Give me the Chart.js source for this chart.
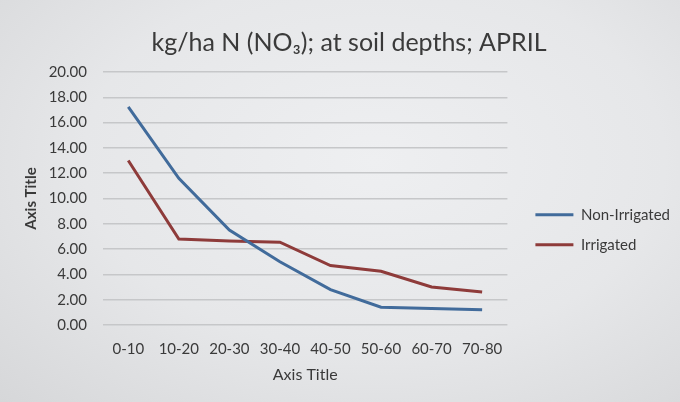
<!DOCTYPE html>
<html>
<head>
<meta charset="utf-8">
<script src="https://cdn.jsdelivr.net/npm/chart.js@4.4.1/dist/chart.umd.min.js"></script>
<style>
  html, body { margin: 0; padding: 0; }
  body {
    width: 680px; height: 402px; overflow: hidden;
    background: radial-gradient(ellipse at 55% 40%, #eeeff1 0%, #e6e7e9 55%, #d6d7d9 100%);
  }
  #wrap { width: 680px; height: 402px; }
</style>
</head>
<body>
<div id="wrap"><canvas id="soil-chart" width="680" height="402"></canvas></div>
<script>
'use strict';

// DATA
const depths = ['0-10', '10-20', '20-30', '30-40', '40-50', '50-60', '60-70', '70-80'];
const nonIrrigated = [17.25, 11.6, 7.5, 5.0, 2.8, 1.4, 1.3, 1.2];
const irrigated = [13.0, 6.8, 6.65, 6.55, 4.7, 4.25, 3.0, 2.6];
const yTicks = [0, 2, 4, 6, 8, 10, 12, 14, 16, 18, 20];

const TEXT = '#3a3a3a';
const FONT = 'Lato, "Open Sans", sans-serif';

// CHART CONFIG
function createLineChart() {
  const data = {
    labels: depths,
    datasets: [
      {
        label: 'Non-Irrigated',
        data: nonIrrigated,
        borderColor: '#416b9b', //BLUE
        backgroundColor: '#416b9b',
        borderWidth: 3,
        pointRadius: 0,
        tension: 0,
      },
      {
        label: 'Irrigated',
        data: irrigated,
        borderColor: '#8e3b3a', //RED
        backgroundColor: '#8e3b3a',
        borderWidth: 3,
        pointRadius: 0,
        tension: 0,
      },
    ],
  };

  const config = {
    type: 'line',
    data: data,
    options: {
      responsive: false,
      animation: false,
      layout: { padding: { left: 18, right: 0, bottom: 14, top: 0 } },
      plugins: {
        title: {
          display: true,
          text: 'kg/ha N (NO\u2083); at soil depths; APRIL',
          color: TEXT,
          font: { family: FONT, size: 25, weight: 'normal' },
          padding: { top: 28, bottom: 14 },
        },
        legend: {
          position: 'right',
          // empty legend title only pushes the two items down
          title: { display: true, text: ' ', font: { family: FONT, size: 13 }, padding: { top: 0, bottom: 56 } },
          labels: {
            color: TEXT,
            font: { family: FONT, size: 15 },
            usePointStyle: true,
            pointStyle: 'line',
            pointStyleWidth: 38,
            padding: 15,
          },
        },
        tooltip: { enabled: false },
      },
      scales: {
        x: {
          offset: true,
          grid: { display: false },
          border: { display: false },
          ticks: { color: TEXT, font: { family: FONT, size: 15 }, maxRotation: 0, padding: 7 },
          title: { display: true, text: 'Axis Title', color: TEXT, font: { family: FONT, size: 16 }, padding: { top: 4 } },
          afterFit: (scale) => { scale.height = 63; },
        },
        y: {
          min: 0,
          max: 20,
          afterBuildTicks: (scale) => { scale.ticks = yTicks.map((v) => ({ value: v })); },
          grid: { color: '#c6c7c9', lineWidth: 1.5, drawTicks: false },
          border: { display: false },
          ticks: {
            color: TEXT,
            font: { family: FONT, size: 15 },
            padding: 16,
            callback: (v) => Number(v).toFixed(2),
          },
          title: { display: true, text: 'Axis Title', color: TEXT, font: { family: FONT, size: 15, weight: 'bold' }, padding: 4 },
          afterFit: (scale) => { scale.width = 85; },
        },
        // HIDDEN RIGHT AXIS, ONLY A GAP BETWEEN PLOT AND LEGEND
        gap: {
          type: 'linear',
          position: 'right',
          display: false,
          afterFit: (scale) => { scale.width = 13; },
        },
      },
    },
  };
  const soilChart = new Chart(document.querySelector('#soil-chart'), config);
}

//RUN ON PAGE LOAD
createLineChart();
</script>
</body>
</html>
